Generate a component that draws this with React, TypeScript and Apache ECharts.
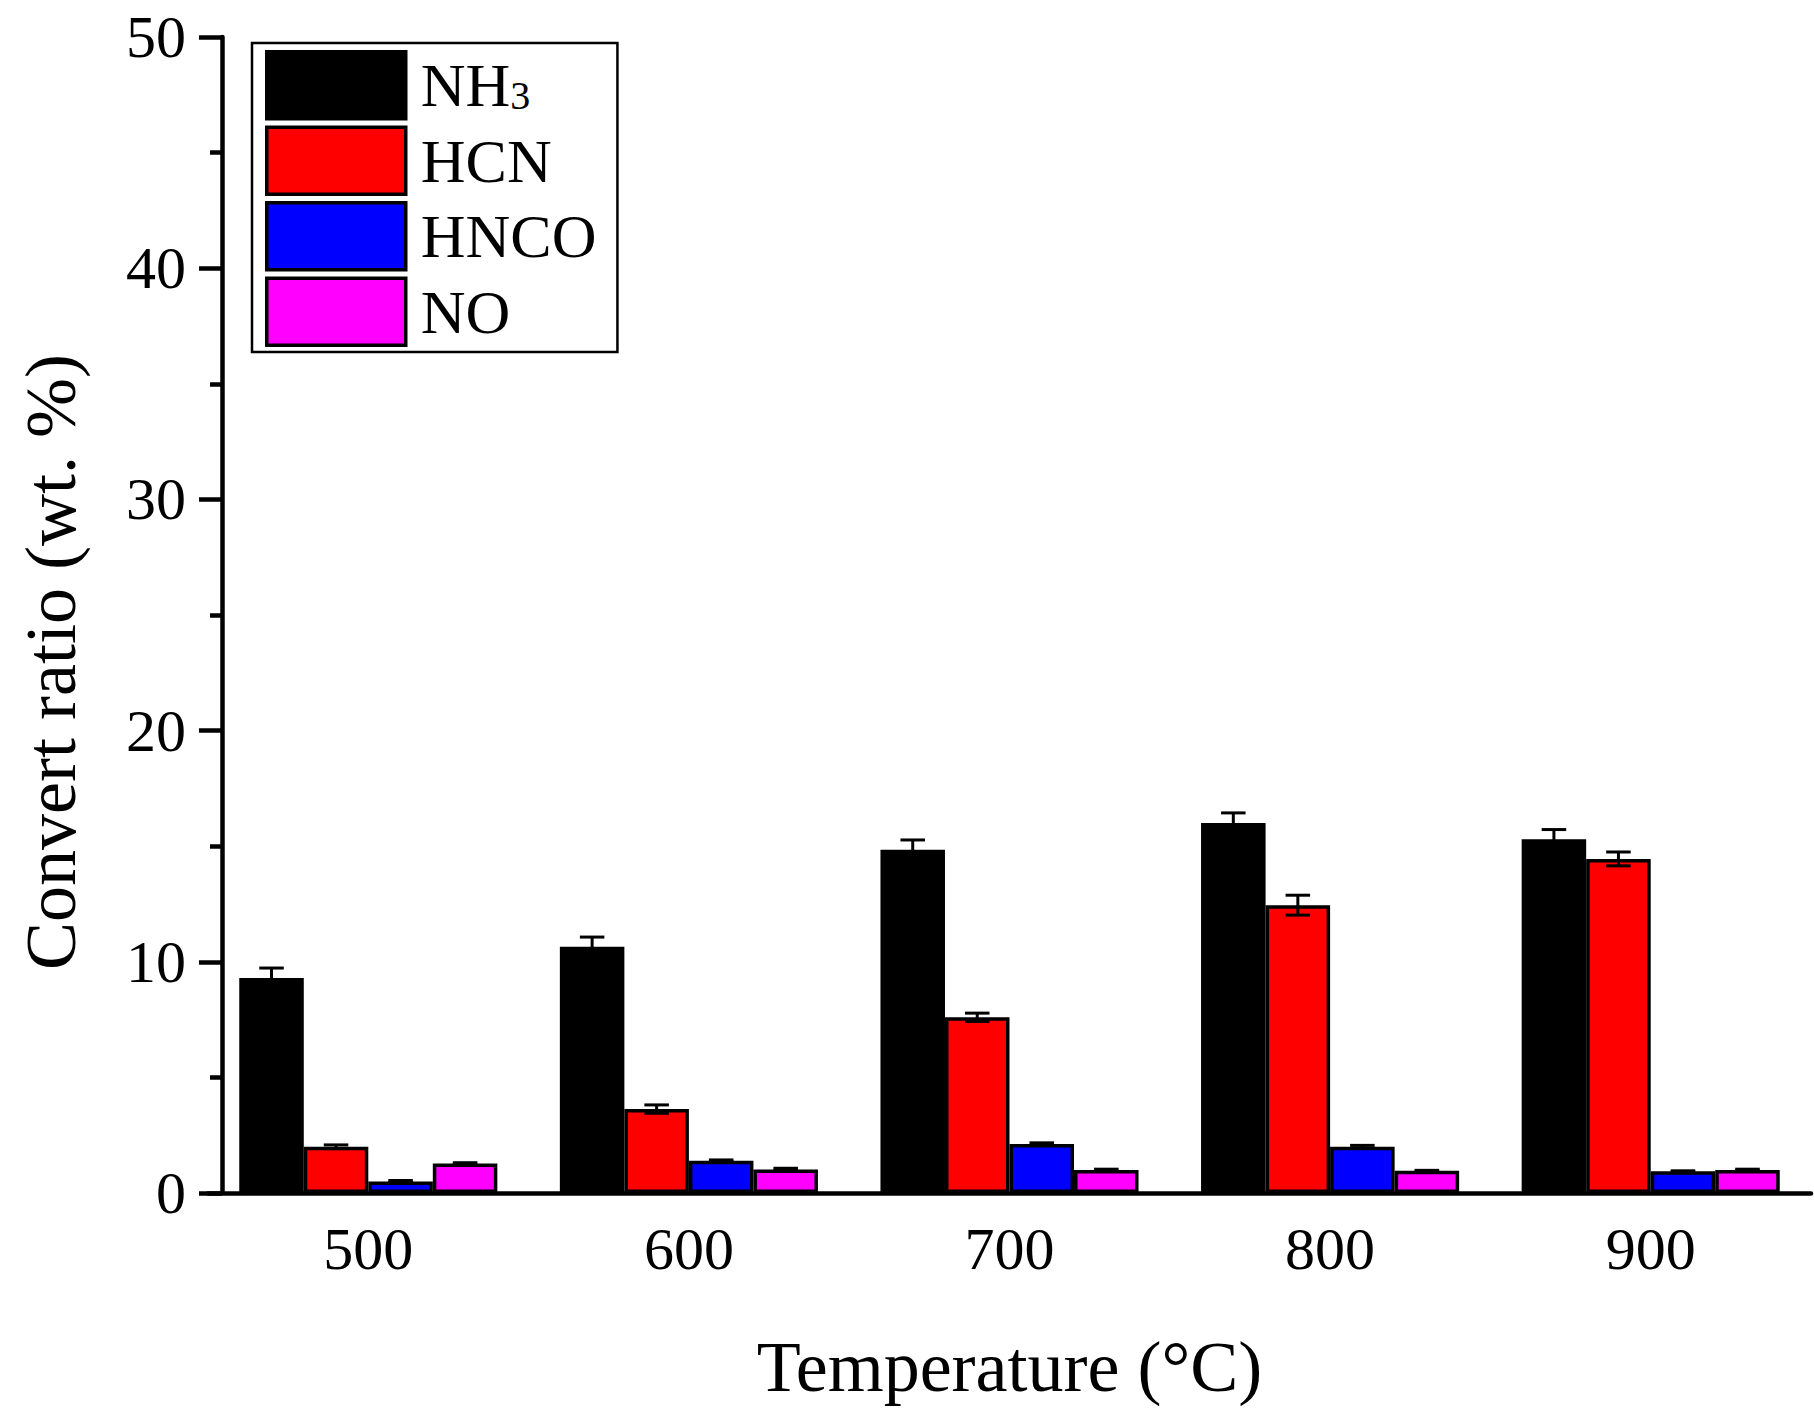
import React, { useEffect, useRef } from "react";
import * as echarts from "echarts";

const categories = ["500", "600", "700", "800", "900"];
const seriesNames = ["NH3", "HCN", "HNCO", "NO"];
const seriesColors = ["#000000", "#ff0000", "#0000ff", "#ff00ff"];
const nh3 = [9.3, 10.65, 14.85, 16.0, 15.3];
const nh3Err = [0.43, 0.42, 0.42, 0.44, 0.42];
const hcn = [2.0, 3.63, 7.6, 12.45, 14.45];
const hcnErr = [0.08, 0.18, 0.18, 0.43, 0.3];
const hnco = [0.5, 1.4, 2.12, 2.0, 0.94];
const hncoErr = [0.04, 0.03, 0.05, 0.06, 0.02];
const no = [1.28, 1.02, 1.0, 0.96, 1.0];
const noErr = [0.03, 0.05, 0.03, 0.02, 0.03];

const FONT = "Liberation Serif";
const CAT_GAP = 0.195;

export default function App() {
  const ref = useRef<HTMLDivElement>(null);
  useEffect(() => {
    if (!ref.current) return;
    const chart = echarts.init(ref.current, null, { renderer: "svg" });
    const values = [nh3, hcn, hnco, no];
    const errs = [nh3Err, hcnErr, hncoErr, noErr];
    const bars = values.map((vals, i) => ({
      name: seriesNames[i],
      type: "bar",
      data: vals,
      barGap: "0%",
      barCategoryGap: CAT_GAP * 100 + "%",
      itemStyle: { color: seriesColors[i], borderColor: "#000", borderWidth: 3.5 },
      z: 2,
    }));
    const errSeries = values.map((vals, i) => ({
      name: seriesNames[i] + " err",
      type: "custom",
      z: 5,
      encode: { x: 0, y: 1 },
      data: vals.map((v, j) => [j, v, errs[i][j]]),
      renderItem: (params: any, api: any) => {
        const xi = api.value(0);
        const v = api.value(1);
        const e = api.value(2);
        const c = api.coord([xi, v]);
        const band = api.size([1, 0])[0];
        const bw = (band * (1 - CAT_GAP)) / 4;
        const cx = c[0] + (i - 1.5) * bw;
        const top = api.coord([xi, v + e])[1];
        const bot = api.coord([xi, v - e])[1];
        const hw = bw * 0.19;
        const st = { stroke: "#000", lineWidth: 3 };
        return {
          type: "group",
          children: [
            { type: "line", shape: { x1: cx, y1: top, x2: cx, y2: bot }, style: st },
            { type: "line", shape: { x1: cx - hw, y1: top, x2: cx + hw, y2: top }, style: st },
            { type: "line", shape: { x1: cx - hw, y1: bot, x2: cx + hw, y2: bot }, style: st },
          ],
        };
      },
    }));
    chart.setOption({
      animation: false,
      backgroundColor: "#ffffff",
      grid: { left: 208, top: 37, width: 1603, height: 1156 },
      legend: {
        data: seriesNames,
        orient: "vertical",
        icon: "rect",
        left: 252,
        top: 43,
        itemWidth: 139,
        itemHeight: 67,
        itemGap: 5,
        padding: [7, 21, 5, 13],
        borderColor: "#000",
        borderWidth: 2.5,
        itemStyle: { borderColor: "#000", borderWidth: 3.5 },
        formatter: (name: string) => (name === "NH3" ? "{a|NH}{b|3}" : "{a|" + name + "}"),
        textStyle: {
          fontFamily: FONT,
          fontSize: 62,
          lineHeight: 60,
          color: "#000",
          padding: [0, 0, 0, 10],
          rich: {
            a: { fontFamily: FONT, fontSize: 62, lineHeight: 60, color: "#000" },
            b: { fontFamily: FONT, fontSize: 40, lineHeight: 60, color: "#000", verticalAlign: "bottom" },
          },
        },
      },
      xAxis: {
        type: "category",
        data: categories,
        axisLine: { lineStyle: { color: "#000", width: 4.5 } },
        axisTick: { show: false },
        axisLabel: { fontFamily: FONT, fontSize: 60, color: "#000", margin: 26 },
        name: "Temperature (°C)",
        nameLocation: "middle",
        nameGap: 138,
        nameTextStyle: { fontFamily: FONT, fontSize: 72, color: "#000" },
      },
      yAxis: {
        type: "value",
        min: 0,
        max: 50,
        interval: 10,
        offset: -14,
        axisLine: { show: true, lineStyle: { color: "#000", width: 4.5 } },
        axisTick: { show: true, length: 23, lineStyle: { color: "#000", width: 4.5 } },
        minorTick: { show: true, splitNumber: 2, length: 12, lineStyle: { color: "#000", width: 4.5 } },
        splitLine: { show: false },
        minorSplitLine: { show: false },
        axisLabel: { fontFamily: FONT, fontSize: 60, color: "#000", margin: 36 },
        name: "Convert ratio (wt. %)",
        nameLocation: "middle",
        nameGap: 135,
        nameTextStyle: { fontFamily: FONT, fontSize: 72, color: "#000", padding: [0, 94, 0, 0] },
      },
      series: [...bars, ...errSeries],
    });
    return () => chart.dispose();
  }, []);
  return (
    <div
      ref={ref}
      style={{ position: "absolute", left: 0, top: 0, width: 1814, height: 1416, background: "#fff" }}
    />
  );
}
